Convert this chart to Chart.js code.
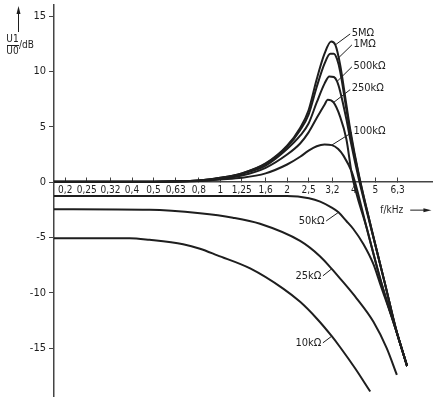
<!DOCTYPE html>
<html>
<head>
<meta charset="utf-8">
<script src="https://cdn.jsdelivr.net/npm/chart.js@4.4.1/dist/chart.umd.min.js"></script>
<style>
  html, body { margin: 0; padding: 0; background: #fff; }
  #wrap { width: 437px; height: 398px; position: relative; }
</style>
</head>
<body>
<div id="wrap"><canvas id="chart_canvas" width="437" height="398"></canvas></div>
<script>
// axis ticks
var freqTicks = [0.2, 0.25, 0.32, 0.4, 0.5, 0.63, 0.8, 1, 1.25, 1.6, 2, 2.5, 3.2, 4, 5, 6.3];
var dbTicks = [-15, -10, -5, 0, 5, 10, 15];

// load resistance curves: frequency (kHz) and level (dB)
var f5M = [0.178, 0.5, 0.8, 1, 1.25, 1.6, 2, 2.29, 2.5, 2.72, 2.95, 3.16, 3.3, 3.47, 3.7, 3.85, 4.21, 4.8, 5.53, 6.2, 6.95];
var db5M = [0.05, 0.05, 0.15, 0.4, 0.8, 1.7, 3.3, 4.9, 6.5, 9.3, 11.6, 12.7, 12.4, 10.6, 7.0, 4.8, 0.7, -4.2, -9.2, -13.3, -16.6];

var f1M = [0.178, 0.5, 0.8, 1, 1.25, 1.6, 2, 2.29, 2.5, 2.72, 2.95, 3.13, 3.25, 3.36, 3.47, 3.7, 3.85, 4.21, 4.8, 5.53, 6.2, 6.95];
var db1M = [0.05, 0.05, 0.15, 0.4, 0.8, 1.65, 3.2, 4.7, 6.1, 8.6, 10.7, 11.6, 11.6, 11.1, 10.0, 6.6, 4.5, 0.6, -4.2, -9.2, -13.3, -16.6];

var f500k = [0.178, 0.5, 0.8, 1, 1.25, 1.6, 2, 2.29, 2.5, 2.72, 2.95, 3.1, 3.25, 3.36, 3.47, 3.7, 3.85, 4.21, 4.8, 5.53, 6.2, 6.95];
var db500k = [0.05, 0.05, 0.15, 0.35, 0.75, 1.5, 3.0, 4.2, 5.3, 7.2, 8.9, 9.55, 9.5, 9.1, 8.2, 5.7, 3.9, 0.3, -4.3, -9.2, -13.3, -16.6];

var f250k = [0.178, 0.5, 0.8, 1, 1.25, 1.6, 2, 2.29, 2.5, 2.72, 2.95, 3.05, 3.24, 3.47, 3.7, 3.92, 4.58, 5.34, 6.16, 6.95];
var db250k = [0.05, 0.05, 0.12, 0.3, 0.6, 1.3, 2.5, 3.5, 4.5, 5.8, 7.0, 7.45, 7.2, 5.9, 3.9, 0.7, -4.2, -9.2, -13.2, -16.6];

var f100k = [0.178, 0.5, 0.8, 1, 1.25, 1.6, 2, 2.29, 2.5, 2.72, 2.95, 3.18, 3.4, 3.59, 3.92, 4.05, 4.58, 5.34, 6.16, 6.95];
var db100k = [0.03, 0.03, 0.1, 0.25, 0.4, 0.8, 1.6, 2.3, 2.85, 3.25, 3.4, 3.35, 3.0, 2.4, 0.9, 0.0, -4.2, -9.2, -13.2, -16.6];

var f50k = [0.178, 1, 2, 2.51, 2.82, 3.15, 3.41, 3.7, 3.97, 4.42, 4.9, 5.26, 6.16, 6.95];
var db50k = [-1.25, -1.25, -1.25, -1.45, -1.75, -2.25, -2.72, -3.5, -4.2, -5.6, -7.4, -9.2, -13.2, -16.6];

var f25k = [0.178, 0.48, 0.81, 1.14, 1.51, 2.29, 2.82, 3.18, 3.47, 4.12, 4.9, 5.63, 6.25];
var db25k = [-2.43, -2.48, -2.8, -3.2, -3.75, -5.3, -6.7, -7.82, -8.7, -10.5, -12.6, -15.0, -17.4];

var f10k = [0.178, 0.39, 0.48, 0.68, 0.81, 0.97, 1.37, 1.92, 2.29, 2.72, 3.18, 3.47, 4.05, 4.74];
var db10k = [-5.05, -5.05, -5.2, -5.6, -6.0, -6.6, -7.8, -9.6, -10.8, -12.3, -13.9, -14.9, -16.8, -18.9];

var FONT = "'Liberation Sans Narrow', 'DejaVu Sans Condensed', 'Liberation Sans', sans-serif";
var INK = '#1e1e1e';

// curve labels with leader line: point on curve -> label corner (data units)
var curveLabels = [
    { text: '5MΩ',   at: [3.30, 12.4],  to: [3.85, 13.39], side: 'right' },
    { text: '1MΩ',   at: [3.36, 11.1],  to: [3.92, 12.4],  side: 'right' },
    { text: '500kΩ', at: [3.36, 9.1],   to: [3.92, 10.42], side: 'right' },
    { text: '250kΩ', at: [3.24, 7.2],   to: [3.85, 8.36],  side: 'right' },
    { text: '100kΩ', at: [3.18, 3.35],  to: [3.92, 4.49],  side: 'right' },
    { text: '50kΩ',  at: [3.41, -2.72], to: [3.0, -3.5],   side: 'left' },
    { text: '25kΩ',  at: [3.18, -7.82], to: [2.9, -8.45],  side: 'left' },
    { text: '10kΩ',  at: [3.18, -13.9], to: [2.9, -14.5],  side: 'left' }
];

function makeSet(fs, dbs) {
    return {
        data: fs.map(function (f, i) { return { x: f, y: dbs[i] }; }),
        borderColor: INK,
        borderWidth: 2,
        pointRadius: 0,
        fill: false,
        cubicInterpolationMode: 'monotone'
    };
}

// draws curve labels, axis names and arrows
var annotate = {
    id: 'annotate',
    afterDatasetsDraw: function (chart) {
        var ctx = chart.ctx, xs = chart.scales.x, ys = chart.scales.y, area = chart.chartArea;
        ctx.save();
        ctx.fillStyle = INK;
        ctx.strokeStyle = INK;
        ctx.lineWidth = 1;
        ctx.textBaseline = 'middle';
        ctx.font = '11px ' + FONT;

        curveLabels.forEach(function (l) {
            var x1 = xs.getPixelForValue(l.at[0]), y1 = ys.getPixelForValue(l.at[1]);
            var x2 = xs.getPixelForValue(l.to[0]), y2 = ys.getPixelForValue(l.to[1]);
            ctx.beginPath();
            ctx.moveTo(x1, y1);
            ctx.lineTo(x2, y2);
            ctx.stroke();
            if (l.side == 'right') {
                ctx.textAlign = 'left';
                ctx.fillText(l.text, x2 + 1.5, y2 - 1);
            } else {
                ctx.textAlign = 'right';
                ctx.fillText(l.text, x2 - 1.5, y2 + 0.5);
            }
        });

        // x axis name and arrow
        ctx.font = '10px ' + FONT;
        ctx.textAlign = 'left';
        var ay = ys.getPixelForValue(-2.52);
        ctx.fillText('f/kHz', xs.getPixelForValue(5.26), ay);
        var ax1 = xs.getPixelForValue(7.18), ax2 = xs.getPixelForValue(8.95);
        ctx.beginPath();
        ctx.moveTo(ax1, ay);
        ctx.lineTo(ax2 - 6, ay);
        ctx.stroke();
        ctx.beginPath();
        ctx.moveTo(ax2, ay);
        ctx.lineTo(ax2 - 8, ay - 2);
        ctx.lineTo(ax2 - 8, ay + 2);
        ctx.closePath();
        ctx.fill();

        // y axis name: U1/U0 fraction, /dB and upward arrow
        var lx = area.left - 45, top = area.top;
        ctx.textAlign = 'center';
        ctx.fillText('U1', lx + 3.5, top + 34);
        ctx.fillText('U0', lx + 3.5, top + 46.5);
        ctx.beginPath();
        ctx.moveTo(lx - 2, top + 40.5);
        ctx.lineTo(lx + 10, top + 40.5);
        ctx.stroke();
        ctx.textAlign = 'left';
        ctx.fillText('/dB', lx + 10, top + 40);
        ctx.beginPath();
        ctx.moveTo(lx + 9.5, top + 27);
        ctx.lineTo(lx + 9.5, top + 6);
        ctx.stroke();
        ctx.beginPath();
        ctx.moveTo(lx + 9.5, top + 1);
        ctx.lineTo(lx + 7.5, top + 9);
        ctx.lineTo(lx + 11.5, top + 9);
        ctx.closePath();
        ctx.fill();
        ctx.restore();
    }
};

new Chart(document.getElementById('chart_canvas').getContext('2d'), {
    type: 'line',
    data: {
        datasets: [
            makeSet(f5M, db5M), makeSet(f1M, db1M), makeSet(f500k, db500k),
            makeSet(f250k, db250k), makeSet(f100k, db100k), makeSet(f50k, db50k),
            makeSet(f25k, db25k), makeSet(f10k, db10k)
        ]
    },
    options: {
        responsive: false,
        devicePixelRatio: 1,
        animation: false,
        layout: { padding: { left: 0, right: 5, top: 5, bottom: 2 } },
        plugins: { legend: { display: false }, tooltip: { enabled: false } },
        scales: {
            x: {
                type: 'logarithmic',
                position: { y: 0 },
                min: 0.178,
                max: 9.0,
                afterFit: function (s) { s.paddingLeft = 0; s.paddingRight = 0; s.paddingTop = 0; s.paddingBottom = 0; },
                afterBuildTicks: function (s) { s.ticks = freqTicks.map(function (v) { return { value: v }; }); },
                ticks: {
                    autoSkip: false, maxRotation: 0, minRotation: 0, padding: 7,
                    color: INK, font: { family: FONT, size: 10 },
                    callback: function (v) { return String(v).replace('.', ','); }
                },
                grid: { drawOnChartArea: false, tickLength: -5, tickColor: '#444', tickWidth: 1 },
                border: { color: '#444', width: 1.5 }
            },
            y: {
                type: 'linear',
                position: 'left',
                min: -19.3,
                max: 16.0,
                afterFit: function (s) { s.width = 54; s.paddingTop = 0; s.paddingBottom = 0; },
                afterBuildTicks: function (s) { s.ticks = dbTicks.map(function (v) { return { value: v }; }); },
                ticks: { padding: 3, color: INK, font: { family: FONT, size: 11 } },
                grid: { drawOnChartArea: false, tickLength: 5, tickColor: '#444', tickWidth: 1 },
                border: { color: '#444', width: 1.5 }
            }
        }
    },
    plugins: [annotate]
});
</script>
</body>
</html>
